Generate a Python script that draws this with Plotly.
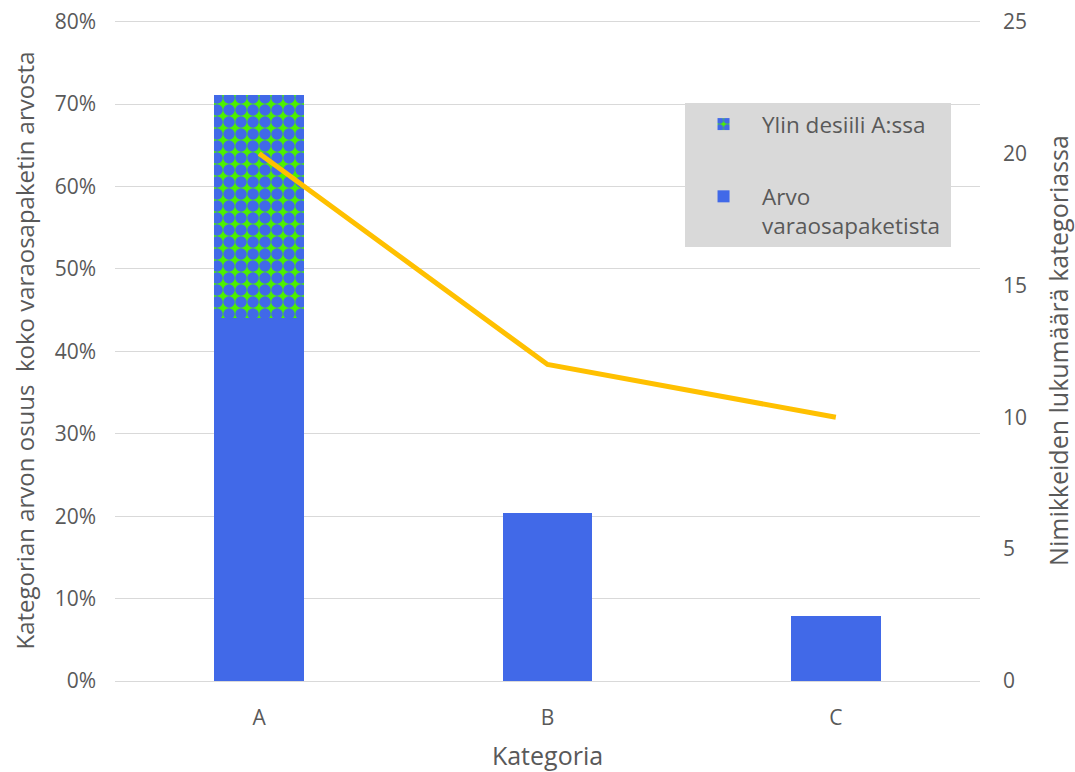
import plotly.graph_objects as go

categories = ["A", "B", "C"]
base_share = [0.44, 0.204, 0.079]
top_decile_share = [0.271, 0, 0]
item_counts = [20, 12, 10]

font_family = "Open Sans, Lato, sans-serif"
grey = "#595959"
blue = "#4169E8"
green = "#4CF000"

fig = go.Figure()
fig.add_trace(go.Bar(
    x=categories, y=base_share, name="Arvo<br>varaosapaketista&nbsp;",
    marker=dict(color=blue, line=dict(width=0)), width=0.31,
    legendgroup="g1", legendrank=2,
))
fig.add_trace(go.Bar(
    x=categories, y=top_decile_share, name="Ylin desiili A:ssa",
    marker=dict(color=green, line=dict(width=0),
                pattern=dict(shape=".", fgcolor=blue, bgcolor=green,
                             size=12, solidity=0.72, fillmode="replace")),
    width=0.31, legendgroup="g2", legendrank=1,
))
fig.add_trace(go.Scatter(
    x=categories, y=item_counts, mode="lines", yaxis="y2",
    line=dict(color="#FFC000", width=5), showlegend=False,
))

fig.update_layout(
    width=1075, height=772,
    margin=dict(l=115, r=95, t=20, b=91),
    barmode="stack",
    plot_bgcolor="white", paper_bgcolor="white",
    font=dict(family=font_family, size=21, color=grey),
    xaxis=dict(title=dict(text="Kategoria", font=dict(size=25), standoff=25),
               showgrid=False, showline=True, linecolor="#d9d9d9", linewidth=1,
               ticks="", ticklabelstandoff=18, automargin=False),
    yaxis=dict(title=dict(text="Kategorian arvon osuus  koko varaosapaketin arvosta",
                          font=dict(size=24), standoff=13),
               range=[0, 0.802], tickvals=[0, 0.1, 0.2, 0.3, 0.4, 0.5, 0.6, 0.7, 0.8],
               tickformat=".0%",
               showgrid=True, gridcolor="#d9d9d9", gridwidth=1,
               zeroline=False, ticks="", ticklabelstandoff=18, automargin=False),
    yaxis2=dict(title=dict(text="Nimikkeiden lukumäärä kategoriassa",
                           font=dict(size=25), standoff=25),
                overlaying="y", side="right", range=[0, 25.0625],
                tickvals=[0, 5, 10, 15, 20, 25],
                showgrid=False, zeroline=False, ticks="", ticklabelstandoff=22,
                automargin=False),
    legend=dict(x=0.659, y=0.8745, xanchor="left", yanchor="top",
                bgcolor="#d9d9d9", font=dict(size=22.5, color=grey),
                traceorder="grouped", tracegroupgap=40,
                valign="top", itemwidth=67),
)

fig.write_html("out.html", config={"displayModeBar": False},
               post_script="document.body.style.margin='0';")
